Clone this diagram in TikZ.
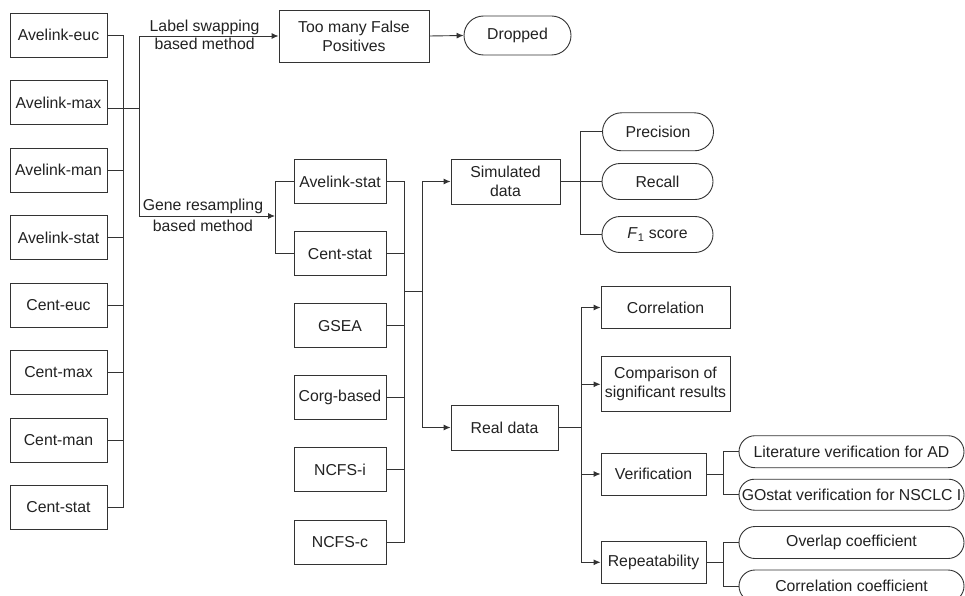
\documentclass[tikz,border=0pt]{standalone}
\usepackage{fontspec}
\setmainfont{Liberation Sans}
\usetikzlibrary{shapes.misc, arrows.meta, positioning}
\definecolor{lineGray}{HTML}{333333}
\definecolor{textGray}{HTML}{222222}

\begin{document}
\begin{tikzpicture}[x=1pt, y=-1pt,
  box/.style={draw=lineGray, line width=0.9pt, fill=white, text=textGray,
    align=center, inner sep=2pt, font=\fontsize{15.8}{19}\selectfont},
  src/.style={box, minimum width=97pt, minimum height=44pt},
  mid/.style={box, minimum width=92pt, minimum height=44pt},
  pill/.style={box, rounded rectangle},
  lbl/.style={text=textGray, inner sep=1.5pt, font=\fontsize{15.8}{19}\selectfont},
  wire/.style={draw=lineGray, line width=0.9pt},
  arr/.style={wire, -{Latex[length=7pt, width=6pt]}}]

  \useasboundingbox (0,0) rectangle (965,596);
  \clip (0,0) rectangle (965,596);

  \node[src] (aeuc) at (58.5,35) {Avelink-euc};
  \node[src, below=22.6pt of aeuc] (amax) {Avelink-max};
  \node[src, below=22.6pt of amax] (aman) {Avelink-man};
  \node[src, below=22.6pt of aman] (astat) {Avelink-stat};
  \node[src, below=22.6pt of astat] (ceuc) {Cent-euc};
  \node[src, below=22.6pt of ceuc] (cmax) {Cent-max};
  \node[src, below=22.6pt of cmax] (cman) {Cent-man};
  \node[src, below=22.6pt of cman] (cstat) {Cent-stat};

  \node[box, minimum width=150pt, minimum height=52pt] (fp) at (354,36) {Too many False\\Positives};
  \node[pill, minimum width=111pt, minimum height=39pt] (drop) at (517.5,35.5) {Dropped};

  \node[mid] (mastat) at (340,181.5) {Avelink-stat};
  \node[mid, below=27.2pt of mastat] (mcstat) {Cent-stat};
  \node[mid, below=27.2pt of mcstat] (gsea) {GSEA};
  \node[mid, below=27.2pt of gsea] (corg) {Corg-based};
  \node[mid, below=27.2pt of corg] (ncfsi) {NCFS-i};
  \node[mid, below=27.2pt of ncfsi] (ncfsc) {NCFS-c};

  \node[box, minimum width=109pt, minimum height=45pt] (sim) at (505.5,181.5) {Simulated\\data};
  \node[box, minimum width=107pt, minimum height=45pt] (real) at (504.5,427.5) {Real data};

  \node[pill, minimum width=115pt, minimum height=38pt] (prec) at (658,131.8) {Precision};
  \node[pill, minimum width=115pt, minimum height=36pt] (rec) at (657.5,181.5) {Recall};
  \node[pill, minimum width=115pt, minimum height=36pt] (fone) at (657.5,234.5) {\textit{F}\textsubscript{1} score};

  \node[box, minimum width=129pt, minimum height=42pt] (corr) at (665.5,307.5) {Correlation};
  \node[box, minimum width=129pt, minimum height=55pt] (comp) at (665.5,384.3) {Comparison of\\significant results};
  \node[box, minimum width=105pt, minimum height=42pt] (verif) at (653.5,474) {Verification};
  \node[box, minimum width=105pt, minimum height=42pt] (rep) at (653.5,562.3) {Repeatability};

  \node[pill, minimum width=229pt, minimum height=32pt] (lit) at (851.5,451.7) {Literature verification for AD};
  \node[pill, minimum width=229pt, minimum height=31pt] (gostat) at (851.5,494.7) {GOstat verification for NSCLC I};
  \node[pill, minimum width=229pt, minimum height=32pt] (overlap) at (851.5,542.5) {Overlap coefficient};
  \node[pill, minimum width=229pt, minimum height=32pt] (ccoef) at (851.5,586) {Correlation coefficient};

  \coordinate (busA) at (123,0);
  \coordinate (sp1) at (139,0);
  \coordinate (gr) at (275,216);
  \coordinate (busB) at (404,0);
  \coordinate (busBout) at (404,291);
  \coordinate (sp2) at (422,0);
  \coordinate (sp3) at (580,0);
  \coordinate (sp4) at (581,0);
  \coordinate (sp5) at (723,0);
  \coordinate (amaxout) at ([yshift=-6pt]amax.east);

  \draw[wire] (aeuc.east) -- (aeuc.east -| busA) -- (cstat.east -| busA) -- (cstat.east);
  \draw[wire] (aman.east) -- (aman.east -| busA);
  \draw[wire] (astat.east) -- (astat.east -| busA);
  \draw[wire] (ceuc.east) -- (ceuc.east -| busA);
  \draw[wire] (cmax.east) -- (cmax.east -| busA);
  \draw[wire] (cman.east) -- (cman.east -| busA);
  \draw[wire] (amaxout) -- (amaxout -| sp1);

  \draw[arr] (amaxout -| sp1) -- (fp.west -| sp1)
    -- node[lbl, above, pos=0.47, yshift=-1pt] (lsw) {Label swapping}
       node[lbl, below, pos=0.47] (lswb) {based method} (fp.west);
  \draw[arr] (amaxout -| sp1) -- (gr -| sp1)
    -- node[lbl, above, pos=0.47] (grs) {Gene resampling}
       node[lbl, below, pos=0.47, yshift=-2pt] (grsb) {based method} (gr);
  \draw[arr] (fp.east) -- (drop.west);

  \draw[wire] (mastat.west) -- (mastat.west -| gr) -- (mcstat.west -| gr) -- (mcstat.west);
  \draw[wire] (mastat.east) -- (mastat.east -| busB) -- (ncfsc.east -| busB) -- (ncfsc.east);
  \draw[wire] (mcstat.east) -- (mcstat.east -| busB);
  \draw[wire] (gsea.east) -- (gsea.east -| busB);
  \draw[wire] (corg.east) -- (corg.east -| busB);
  \draw[wire] (ncfsi.east) -- (ncfsi.east -| busB);
  \draw[wire] (busBout) -- (busBout -| sp2);
  \draw[arr] (busBout -| sp2) -- (sim.west -| sp2) -- (sim.west);
  \draw[arr] (busBout -| sp2) -- (real.west -| sp2) -- (real.west);

  \draw[wire] (sim.east) -- (sim.east -| sp3);
  \draw[wire] (prec.west) -- (prec.west -| sp3) -- (fone.west -| sp3) -- (fone.west);
  \draw[wire] (rec.west) -- (rec.west -| sp3);

  \draw[wire] (real.east) -- (real.east -| sp4);
  \draw[wire] (corr.west -| sp4) -- (rep.west -| sp4);
  \draw[arr] (corr.west -| sp4) -- (corr.west);
  \draw[arr] (comp.west -| sp4) -- (comp.west);
  \draw[arr] (verif.west -| sp4) -- (verif.west);
  \draw[arr] (rep.west -| sp4) -- (rep.west);

  \draw[wire] (verif.east) -- (verif.east -| sp5);
  \draw[wire] (lit.west) -- (lit.west -| sp5) -- (gostat.west -| sp5) -- (gostat.west);
  \draw[wire] (rep.east) -- (rep.east -| sp5);
  \draw[wire] (overlap.west) -- (overlap.west -| sp5) -- (ccoef.west -| sp5) -- (ccoef.west);
\end{tikzpicture}
\end{document}
